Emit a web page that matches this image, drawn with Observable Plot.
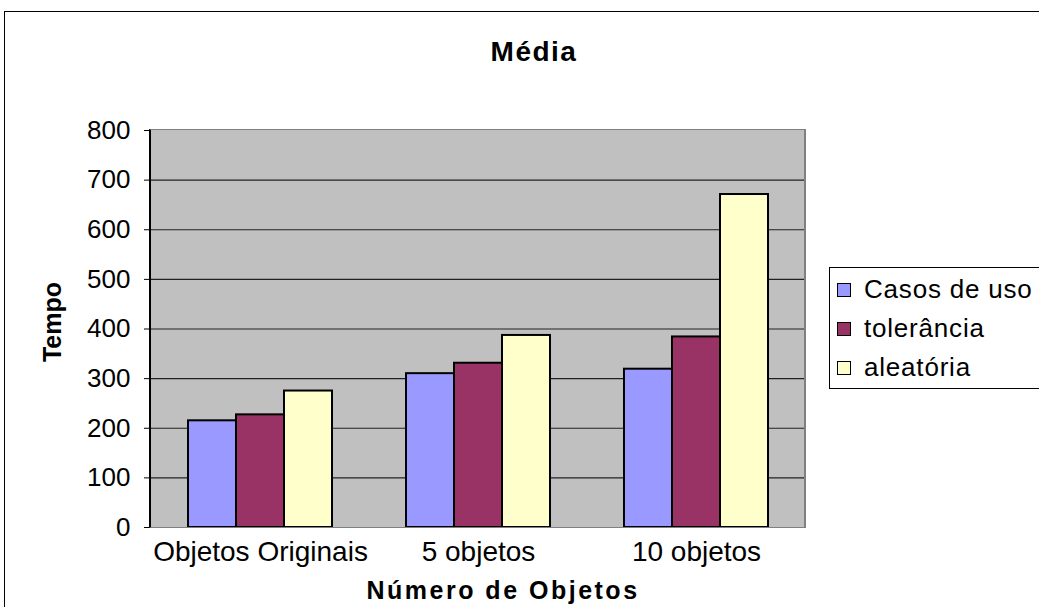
<!DOCTYPE html>
<html>
<head>
<meta charset="utf-8">
<script src="https://cdn.jsdelivr.net/npm/d3@7"></script>
<script src="https://cdn.jsdelivr.net/npm/@observablehq/plot@0.6"></script>
<style>
  body { margin: 0; background: white; }
  #wrap { position: relative; width: 1039px; height: 607px; overflow: hidden; background: white; font-family: "Liberation Sans", Arial, sans-serif; color: #000; }
  #plot { position: absolute; left: 0; top: 0; }
  #plot svg { background: none !important; }
  g[aria-label^="fx-axis"] text { font-size: 28px; }
  .abs { position: absolute; white-space: nowrap; }
  #plotBg { background: #c0c0c0; }
  #chartBorder { left: 4px; top: 11px; width: 1200px; height: 800px; border-left: 1.5px solid #000; border-top: 1.5px solid #000; }
  #plotBorder { box-sizing: border-box; border-top: 1.5px solid #808080; border-right: 2px solid #808080; border-bottom: 1.5px solid #808080; border-left: 2px solid #000; pointer-events: none; }
  #title { font-weight: bold; font-size: 28px; letter-spacing: 1.5px; transform: translateX(-50%); }
  #xlabel { font-weight: bold; font-size: 25px; letter-spacing: 2.5px; transform: translateX(-50%); }
  #ylabel { font-weight: bold; font-size: 25px; transform: translate(-50%, -50%) rotate(-90deg); }
  #legend { border: 1.5px solid #000; background: white; }
  .item { position: absolute; display: flex; align-items: center; font-size: 26px; letter-spacing: 0.8px; }
  .sw { width: 12px; height: 12px; border: 1.5px solid #000; margin-right: 13px; }
</style>
</head>
<body>
<div id="wrap">
  <div id="plotBg" class="abs"></div>
  <div id="plot"></div>
  <div id="chartBorder" class="abs"></div>
  <div id="plotBorder" class="abs"></div>
  <div id="title" class="abs"></div>
  <div id="xlabel" class="abs"></div>
  <div id="ylabel" class="abs"></div>
  <div id="legend" class="abs"></div>
</div>
<script>
// ---- Data ----
const categories = ["Objetos Originais", "5 objetos", "10 objetos"];
const series = ["Casos de uso", "tolerância", "aleatória"];
const casosDeUso = [215, 310, 319];
const tolerancia = [227, 331, 384];
const aleatoria = [275, 387, 671];
const yTicks = [0, 100, 200, 300, 400, 500, 600, 700, 800];
const colors = ["#9999ff", "#993366", "#ffffcc"];
const titleText = "Média";
const xTitle = "Número de Objetos";
const yTitle = "Tempo";

// ---- Layout ----
const W = 1039, H = 607;
const mLeft = 150, mTop = 130, mRight = W - 805, mBottom = H - 527;

const valuesBySeries = [casosDeUso, tolerancia, aleatoria];
const table = [];
categories.forEach((c, i) => {
  series.forEach((s, j) => table.push({category: c, series: s, value: valuesBySeries[j][i]}));
});

const chart = Plot.plot({
  width: W,
  height: H,
  marginLeft: mLeft,
  marginTop: mTop,
  marginRight: mRight,
  marginBottom: mBottom,
  style: {fontFamily: "'Liberation Sans', Arial, sans-serif", fontSize: "26px", color: "#000", background: "none"},
  fx: {domain: categories, padding: 0, label: null, axis: "bottom", tickSize: 0, tickPadding: 14},
  x: {domain: series, paddingInner: 0, paddingOuter: 0.75, axis: null},
  y: {domain: [0, 800], ticks: yTicks, tickSize: 7, tickPadding: 14, label: null, tickFormat: d => String(d)},
  color: {domain: series, range: colors},
  marks: [
    Plot.ruleY(yTicks.filter(d => d > 0 && d < 800), {stroke: "#222", strokeWidth: 1.2}),
    Plot.barY(table, {fx: "category", x: "series", y: "value", fill: "series", stroke: "#000", strokeWidth: 2, inset: 0})
  ]
});
document.getElementById("plot").appendChild(chart);

// plot-area background and border
const bg = document.getElementById("plotBg");
bg.style.left = mLeft + "px";
bg.style.top = mTop + "px";
bg.style.width = (W - mLeft - mRight) + "px";
bg.style.height = (H - mTop - mBottom) + "px";
const pb = document.getElementById("plotBorder");
pb.style.left = (mLeft - 1) + "px";
pb.style.top = (mTop - 1) + "px";
pb.style.width = (W - mLeft - mRight + 2) + "px";
pb.style.height = (H - mTop - mBottom + 2) + "px";

// titles
const t = document.getElementById("title");
t.textContent = titleText; t.style.left = "534px"; t.style.top = "36px";
const xl = document.getElementById("xlabel");
xl.textContent = xTitle; xl.style.left = "503px"; xl.style.top = "576px";
const yl = document.getElementById("ylabel");
yl.textContent = yTitle; yl.style.left = "52px"; yl.style.top = "322px";

// legend
const lg = document.getElementById("legend");
lg.style.left = "829px"; lg.style.top = "267px"; lg.style.width = "300px"; lg.style.height = "120px";
series.forEach((s, i) => {
  const it = document.createElement("div");
  it.className = "item";
  it.style.left = "7px";
  it.style.top = (6 + i * 39) + "px";
  const sw = document.createElement("div");
  sw.className = "sw";
  sw.style.background = colors[i];
  const lab = document.createElement("span");
  lab.textContent = s;
  it.appendChild(sw); it.appendChild(lab);
  lg.appendChild(it);
});
</script>
</body>
</html>
